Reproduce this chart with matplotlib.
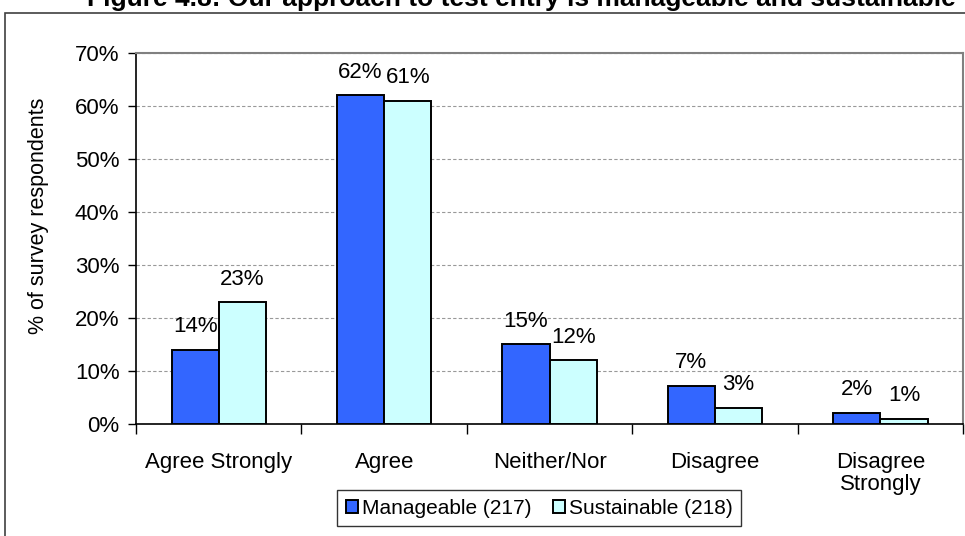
import matplotlib
matplotlib.use("Agg")
import matplotlib.pyplot as plt
import numpy as np
from matplotlib.patches import Rectangle

plt.rcParams['font.family'] = ['Liberation Sans', 'DejaVu Sans']

categories = ['Agree Strongly', 'Agree', 'Neither/Nor', 'Disagree', 'Disagree\nStrongly']
manageable = [14, 62, 15, 7.2, 2.1]
sustainable = [23, 61, 12, 3.1, 1.0]
manageable_labels = ['14%', '62%', '15%', '7%', '2%']
sustainable_labels = ['23%', '61%', '12%', '3%', '1%']
series_names = ['Manageable (217)', 'Sustainable (218)']

fig = plt.figure(figsize=(9.65, 5.36), dpi=100)
ax = fig.add_axes([0.141, 0.209, 0.857, 0.692])

x = np.arange(len(categories))
w = 0.285
b1 = ax.bar(x - w / 2, manageable, w, color='#3366FF', edgecolor='black', linewidth=1.4,
            label=series_names[0], zorder=3)
b2 = ax.bar(x + w / 2, sustainable, w, color='#CCFFFF', edgecolor='black', linewidth=1.4,
            label=series_names[1], zorder=3)

for bars, labs in [(b1, manageable_labels), (b2, sustainable_labels)]:
    for bar, lab in zip(bars, labs):
        ax.annotate(lab, (bar.get_x() + bar.get_width() / 2, bar.get_height()),
                    xytext=(0, 9), textcoords='offset points', ha='center', va='bottom',
                    fontsize=16)

ax.set_xlim(-0.5, len(categories) - 0.5)
ax.set_ylim(0, 70)
ax.set_yticks(range(0, 71, 10))
ax.set_yticklabels([f'{v}%' for v in range(0, 71, 10)], fontsize=16)
ax.yaxis.grid(True, linestyle=(0, (3, 2)), color='#999999', linewidth=0.8, zorder=0)
ax.tick_params(axis='y', direction='out', length=6, width=1, pad=6)

ax.set_xticks(np.arange(-0.5, len(categories), 1))
ax.set_xticklabels([])
ax.set_xticks(x, minor=True)
ax.set_xticklabels(categories, minor=True, fontsize=16, linespacing=1.05)
ax.tick_params(axis='x', which='major', direction='out', length=7, width=1)
ax.tick_params(axis='x', which='minor', length=0, pad=20)

for s in ['top', 'right']:
    ax.spines[s].set_color('#808080')
    ax.spines[s].set_linewidth(1.5)
for s in ['left', 'bottom']:
    ax.spines[s].set_color('black')
    ax.spines[s].set_linewidth(1.2)

ax.set_ylabel('% of survey respondents', fontsize=15.5)
ax.yaxis.set_label_coords(-0.105, 0.56)

leg = fig.legend(loc='center', bbox_to_anchor=(0.559, 0.052), ncol=2, fontsize=15,
                 frameon=True, fancybox=False, edgecolor='black', handlelength=0.6,
                 handleheight=0.6, handletextpad=0.2, columnspacing=1.0,
                 borderpad=0.4)
leg.get_frame().set_linewidth(1)

fig.patches.append(Rectangle((5 / 965, -0.01), 1.0, 1 - 13 / 536 + 0.01,
                             transform=fig.transFigure, fill=False,
                             edgecolor='#404040', linewidth=1.2))

fig.text(87 / 965, 1 - 6 / 536, 'Figure 4.8: Our approach to test entry is manageable and sustainable',
         fontsize=19, fontweight='bold', ha='left', va='baseline')

fig.savefig('out.png', dpi=100)
